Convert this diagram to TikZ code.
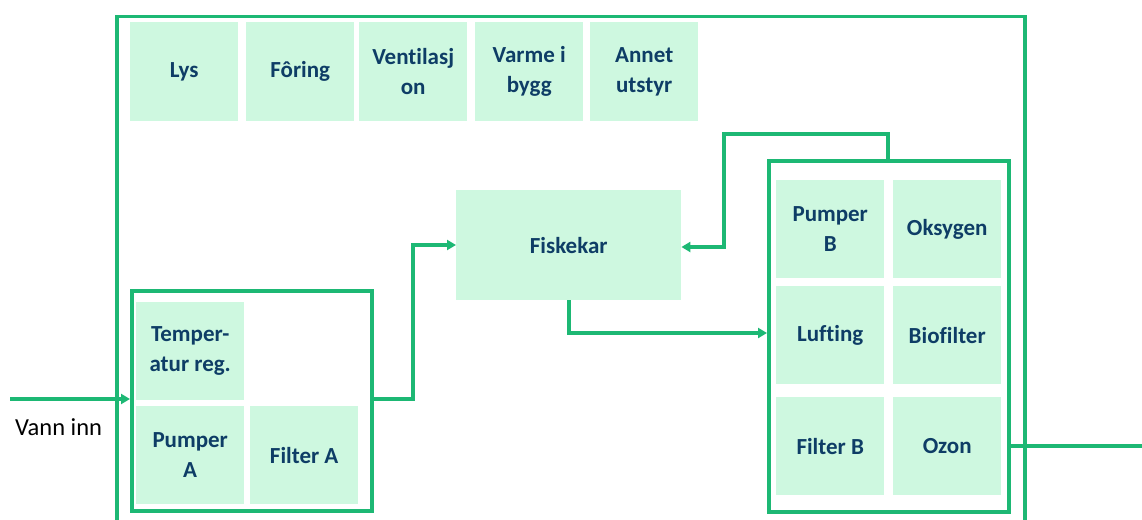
\documentclass[tikz,border=0pt]{standalone}
\usepackage{fontspec}
\setmainfont[Ligatures=NoCommon]{Carlito}
\usetikzlibrary{arrows.meta}
\definecolor{lgreen}{HTML}{1DB874}
\definecolor{tilefill}{HTML}{CEF8E0}
\definecolor{navy}{HTML}{0E3D66}
\begin{document}
\begin{tikzpicture}[x=1pt,y=-1pt,
  tile/.style={fill=tilefill,draw=none,inner sep=0pt,align=center,text=navy,
    font=\fontsize{23}{30}\selectfont\bfseries},
  grp/.style={draw=lgreen,line width=3.5pt,fill=none,inner sep=0pt},
  conn/.style={draw=lgreen,line width=3.5pt},
  arr/.style={conn,-{Triangle[length=9pt,width=10pt]}}]
\useasboundingbox (0,0) rectangle (1142,519);
\clip (0,0) rectangle (1142,519);
\fill[white] (0,0) rectangle (1142,519);
% outer frame
\node[grp,anchor=north west,minimum width=908pt,minimum height=530pt] (outer) at (115,15) {};
% top tiles
\node[tile,anchor=north west,minimum width=108pt,minimum height=99pt] (lys) at (130,22) {Lys};
\node[tile,anchor=north west,minimum width=108pt,minimum height=99pt] (foring) at (246,22) {Fôring};
\node[tile,anchor=north west,minimum width=108pt,minimum height=99pt] (vent) at (359,22) {Ventilasj\\on};
\node[tile,anchor=north west,minimum width=108pt,minimum height=99pt] (varme) at (475,22) {Varme i\\bygg};
\node[tile,anchor=north west,minimum width=108pt,minimum height=99pt] (annet) at (590,22) {Annet\\utstyr};
% fiskekar
\node[tile,anchor=north west,minimum width=225pt,minimum height=110pt] (fisk) at (456,190) {Fiskekar};
% left group
\node[grp,anchor=north west,minimum width=240pt,minimum height=220pt] (ga) at (130,289) {};
\node[tile,anchor=north west,minimum width=108pt,minimum height=98pt] (temp) at (136,302) {Temper-\\atur reg.};
\node[tile,anchor=north west,minimum width=108pt,minimum height=98pt] (pa) at (136,406) {Pumper\\A};
\node[tile,anchor=north west,minimum width=108pt,minimum height=98pt] (fa) at (250,406) {Filter A};
% right group
\node[grp,anchor=north west,minimum width=240pt,minimum height=351pt] (gb) at (767,159) {};
\node[tile,anchor=north west,minimum width=108pt,minimum height=98pt] (pb) at (776,180) {Pumper\\B};
\node[tile,anchor=north west,minimum width=108pt,minimum height=98pt] (oks) at (893,180) {Oksygen};
\node[tile,anchor=north west,minimum width=108pt,minimum height=98pt] (luft) at (776,286) {Lufting};
\node[tile,anchor=north west,minimum width=108pt,minimum height=98pt] (bio) at (893,286) {Biofilter};
\node[tile,anchor=north west,minimum width=108pt,minimum height=98pt] (fb) at (776,397) {Filter B};
\node[tile,anchor=north west,minimum width=108pt,minimum height=98pt] (ozon) at (893,397) {Ozon};
% inlet
\coordinate (inn) at (10,399);
\node[anchor=west,inner sep=0pt,font=\fontsize{24.5}{28}\selectfont] (vannlbl) at (15,427) {Vann inn};
\draw[arr] (inn) -- (ga.west |- inn);
% group A -> fiskekar
\draw[arr] (ga.east |- inn) -- (413,399) -- (413,245) -- (fisk.west |- 0,245);
% fiskekar -> group B
\draw[arr] (fisk.south -| 569,0) -- (569,333) -- (gb.west |- 0,333);
% group B -> fiskekar (return)
\draw[arr] (gb.north -| 888,0) -- (888,134) -- (724,134) -- (724,247) -- (fisk.east |- 0,247);
% outlet
\coordinate (ut) at (1142,446);
\draw[conn] (gb.east |- ut) -- (ut);
\end{tikzpicture}
\end{document}
